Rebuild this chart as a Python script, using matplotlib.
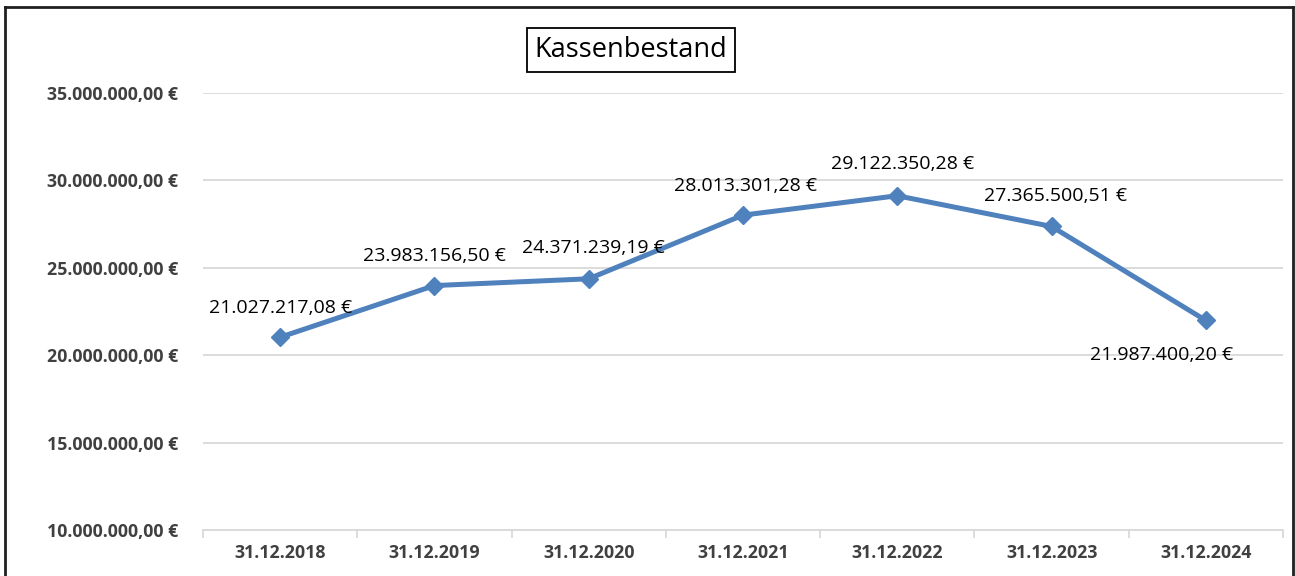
import matplotlib
matplotlib.use("Agg")
import matplotlib.pyplot as plt
from matplotlib.lines import Line2D
from matplotlib.ticker import FixedLocator, FuncFormatter

# Daten
dates = ["31.12.2018", "31.12.2019", "31.12.2020", "31.12.2021",
         "31.12.2022", "31.12.2023", "31.12.2024"]
bestand = [21027217.08, 23983156.50, 24371239.19, 28013301.28,
           29122350.28, 27365500.51, 21987400.20]
y_ticks = [10e6, 15e6, 20e6, 25e6, 30e6, 35e6]


def euro(v, pos=None):
    s = "{:,.2f}".format(v).replace(",", "X").replace(".", ",").replace("X", ".")
    return s + " €"


plt.rcParams['font.family'] = ['Open Sans', 'DejaVu Sans']

fig = plt.figure(figsize=(12.95, 5.76), dpi=100)
ax = fig.add_axes([203 / 1295, 1 - 530 / 576, 1080 / 1295, 437 / 576])

x = list(range(len(dates)))
ax.plot(x, bestand, color='#4f81bd', lw=3.6, marker='D', ms=9,
        solid_capstyle='round', solid_joinstyle='round', zorder=3)

ax.set_xlim(-0.5, len(dates) - 0.5)
ax.set_ylim(y_ticks[0], y_ticks[-1])
ax.set_yticks(y_ticks)
ax.yaxis.set_major_formatter(FuncFormatter(lambda v, p: euro(v)))
ax.set_xticks(x)
ax.set_xticklabels(dates)
ax.xaxis.set_minor_locator(FixedLocator([i - 0.5 for i in range(len(dates) + 1)]))

ax.grid(axis='y', color='#d9d9d9', lw=1.3)
ax.set_axisbelow(True)
for s in ['top', 'right', 'left']:
    ax.spines[s].set_visible(False)
ax.spines['bottom'].set_color('#d9d9d9')
ax.spines['bottom'].set_linewidth(1.3)

ax.tick_params(axis='y', length=0, pad=18, labelsize=12.8, labelcolor='#404040')
ax.tick_params(axis='x', which='major', length=0, pad=10, labelsize=12.8,
               labelcolor='#404040')
ax.tick_params(axis='x', which='minor', length=6, color='#d9d9d9', width=1.3)
for lab in ax.get_xticklabels() + ax.get_yticklabels():
    lab.set_fontweight('bold')

# Datenbeschriftungen
offsets = [(0, 21), (0, 21), (3, 22), (2, 21), (4, 23), (3, 22), (-32, -25)]
for xi, v, off in zip(x, bestand, offsets):
    ax.annotate(euro(v), (xi, v), xytext=off, textcoords='offset points',
                ha='center', va='center', fontsize=14, color='black')

fig.text(631 / 1295, 1 - 50 / 576, "Kassenbestand", ha='center', va='center',
         fontsize=19.5, color='black',
         bbox=dict(boxstyle='square,pad=0.28', fc='white', ec='black', lw=1.3))

# Rahmen um das Diagramm
l, r, t = 5 / 1295, 1293 / 1295, 1 - 7 / 576
for xs, ys in [([l, l], [0, t]), ([l, r], [t, t]), ([r, r], [t, 0])]:
    fig.add_artist(Line2D(xs, ys, color='#202020', lw=2,
                          transform=fig.transFigure))

fig.savefig("out.png", dpi=100)
